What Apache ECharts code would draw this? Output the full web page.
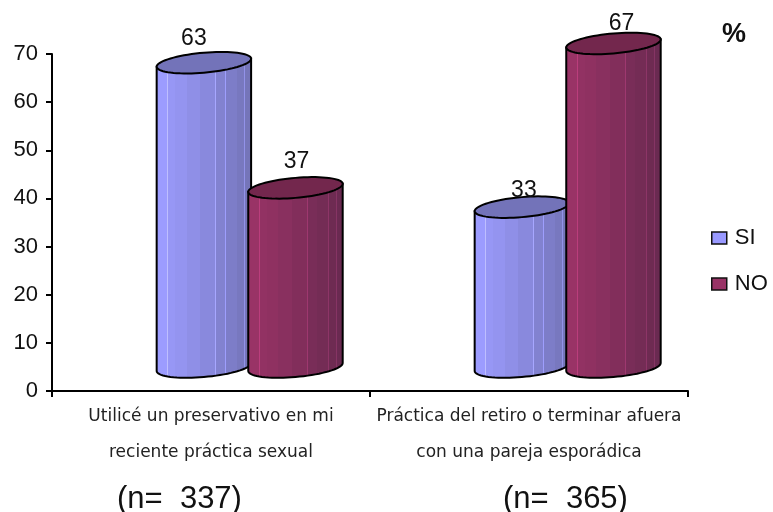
<!DOCTYPE html>
<html>
<head>
<meta charset="utf-8">
<script src="https://cdn.jsdelivr.net/npm/echarts@6/dist/echarts.min.js"></script>
<style>html,body{margin:0;padding:0;background:#fff}#c{width:773px;height:512px}</style>
</head>
<body>
<div id="c"></div>
<script>
const categories = ['Utilicé un preservativo en mi\nreciente práctica sexual', 'Práctica del retiro o terminar afuera\ncon una pareja esporádica'];
const seriesNames = ['SI', 'NO'];
const siValues = [63, 33];
const noValues = [37, 67];
const sampleSizes = ['(n=  337)', '(n=  365)'];
const yTicksMax = 70;

const FONT = '"Liberation Sans", Arial, sans-serif';
const depth = { dx: 39, dy: 25 };
const siLabelShift = [[-10, -24], [2, -16]];
const noLabelShift = [[1, -26], [8, -20]];
const streaks = [0.12, 0.62, 0.72, 0.84, 0.92];
const bandEdges = [0.2, 0.32, 0.46, 0.62, 0.72, 0.84, 0.92];

function barFill(from, to) {
  const at = p => echarts.color.lerp(p, [from, to]);
  const stops = [];
  const push = (o, c) => stops.push({ offset: Math.min(1, o), color: c });
  let prev = 0;
  const edges = Array.from(new Set(streaks.concat(bandEdges))).sort((a, b) => a - b).concat([1]);
  edges.forEach(e => {
    const col = at(prev);
    push(prev, col);
    push(e, col);
    if (streaks.indexOf(e) >= 0) {
      const pale = echarts.color.lift(col, -0.22);
      push(e, pale);
      push(e + 0.008, pale);
      prev = e + 0.008;
    } else {
      prev = e;
    }
  });
  return { type: 'linear', x: 0, y: 0, x2: 1, y2: 0, colorStops: stops };
}

function makeRender(shiftFrac, fill, capColor, labelShift) {
  return function (params, api) {
    const idx = api.value(0), val = api.value(1);
    const top = api.coord([idx, val]);
    const base = api.coord([idx, 0]);
    const band = api.size([1, 0])[0];
    const a = band * 0.1485, tilt = 4, b = 10;
    const cx = top[0] + depth.dx + band * shiftFrac;
    const ty = top[1] - depth.dy;
    const by = base[1] - depth.dy + 1;
    const pt = (cy, t) => [cx + a * Math.cos(t), cy - tilt * Math.cos(t) + b * Math.sin(t)];
    const N = 36;
    const body = [];
    body.push(pt(ty, 0));
    for (let i = 0; i <= N; i++) body.push(pt(by, Math.PI * i / N));
    body.push(pt(ty, Math.PI));
    const cap = [];
    for (let i = 0; i < 2 * N; i++) cap.push(pt(ty, Math.PI * i / N));
    const sh = labelShift[idx];
    return {
      type: 'group',
      children: [
        { type: 'polygon', shape: { points: body }, style: { fill: fill, stroke: '#000', lineWidth: 2 } },
        { type: 'polygon', shape: { points: cap }, style: { fill: capColor, stroke: '#000', lineWidth: 2 } },
        { type: 'text', style: { text: String(val), x: cx + sh[0], y: ty + sh[1], align: 'center', verticalAlign: 'middle', fontSize: 23, fontFamily: FONT, fill: '#111' } }
      ]
    };
  };
}

const chart = echarts.init(document.getElementById('c'), null, { renderer: 'canvas' });
const toData = arr => arr.map((v, i) => [i, v]);
chart.setOption({
  animation: false,
  backgroundColor: '#fff',
  title: [
    { text: '%', left: 717, top: 16, textStyle: { fontFamily: FONT, fontSize: 27, fontWeight: 'bold', color: '#111' } },
    { text: sampleSizes[0], left: 112, top: 479, textStyle: { fontFamily: FONT, fontSize: 31, fontWeight: 'normal', color: '#111' } },
    { text: sampleSizes[1], left: 498, top: 479, textStyle: { fontFamily: FONT, fontSize: 31, fontWeight: 'normal', color: '#111' } }
  ],
  legend: {
    orient: 'vertical', left: 711, top: 227, padding: 0, itemWidth: 15, itemHeight: 12, itemGap: 24,
    icon: 'rect', selectedMode: false,
    textStyle: { fontFamily: FONT, fontSize: 22, color: '#111', padding: [0, 0, 0, 3] },
    data: [
      { name: seriesNames[0], itemStyle: { color: '#9999FF', borderColor: '#111', borderWidth: 1.5 } },
      { name: seriesNames[1], itemStyle: { color: '#993366', borderColor: '#111', borderWidth: 1.5 } }
    ]
  },
  grid: { left: 52, right: 85, top: 54, bottom: 121 },
  xAxis: {
    type: 'category', data: categories,
    axisLine: { lineStyle: { color: '#000', width: 2 } },
    axisTick: { show: true, alignWithLabel: false, length: 6, lineStyle: { color: '#000', width: 2 } },
    axisLabel: { interval: 0, margin: 8, lineHeight: 36, fontSize: 17, fontFamily: '"DejaVu Sans", sans-serif', color: '#222' }
  },
  yAxis: {
    type: 'value', min: 0, max: yTicksMax, interval: 10,
    splitLine: { show: false },
    axisLine: { show: true, lineStyle: { color: '#000', width: 2 } },
    axisTick: { show: true, length: 6, lineStyle: { color: '#000', width: 2 } },
    axisLabel: { fontSize: 22, fontFamily: FONT, color: '#111', margin: 14 }
  },
  series: [
    { name: seriesNames[0], type: 'custom', data: toData(siValues), encode: { x: 0, y: 1 }, clip: false,
      itemStyle: { color: '#9999FF' },
      renderItem: makeRender(-0.145, barFill('#9C9CFF', '#7272B4'), '#7373B9', siLabelShift) },
    { name: seriesNames[1], type: 'custom', data: toData(noValues), encode: { x: 0, y: 1 }, clip: false,
      itemStyle: { color: '#993366' },
      renderItem: makeRender(0.143, barFill('#993366', '#66294F'), '#73274D', noLabelShift) }
  ]
});
</script>
</body>
</html>
